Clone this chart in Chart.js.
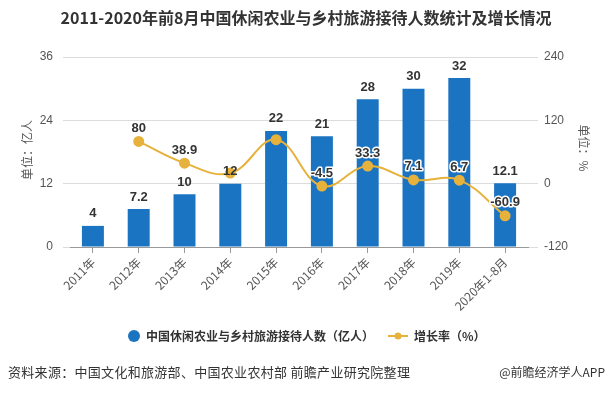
<!DOCTYPE html>
<html>
<head>
<meta charset="utf-8">
<script src="https://cdn.jsdelivr.net/npm/chart.js@4.4.1/dist/chart.umd.min.js"></script>
<style>
  html, body { margin: 0; padding: 0; background: #fff; }
  #wrap { width: 610px; height: 393px; }
</style>
</head>
<body>
<div id="wrap"><canvas id="chart" width="610" height="393"></canvas></div>
<script>
// chart data
const categories = ['2011年', '2012年', '2013年', '2014年', '2015年', '2016年', '2017年', '2018年', '2019年', '2020年1-8月'];
const visitors = [4, 7.2, 10, 12, 22, 21, 28, 30, 32, 12.1];
const growth = [null, 80, 38.9, 20, 83.3, -4.5, 33.3, 7.1, 6.7, -60.9];
const hiddenGrowthLabels = ['2014年', '2015年'];
const leftTicks = [0, 12, 24, 36];
const rightTicks = [-120, 0, 120, 240];

const BLUE = '#1b74c2';
const GOLD = '#e6b23c';
const CJK = '"Noto Sans CJK SC", "Noto Sans", sans-serif';

// value labels above bars and points
const valueLabels = {
    id: 'valueLabels',
    afterDatasetsDraw(chart) {
        const ctx = chart.ctx;
        ctx.save();
        ctx.textAlign = 'center';
        ctx.textBaseline = 'middle';
        ctx.font = 'bold 13px "Liberation Sans", Arial, sans-serif';

        // line labels (white halo)
        const lineMeta = chart.getDatasetMeta(1);
        lineMeta.data.forEach((pt, i) => {
            if (growth[i] === null || hiddenGrowthLabels.includes(categories[i])) return;
            const y = pt.y - 13;
            ctx.lineWidth = 3;
            ctx.strokeStyle = '#fff';
            ctx.lineJoin = 'round';
            ctx.strokeText(String(growth[i]), pt.x, y);
            ctx.fillStyle = '#333';
            ctx.fillText(String(growth[i]), pt.x, y);
        });

        // bar labels
        const barMeta = chart.getDatasetMeta(0);
        barMeta.data.forEach((bar, i) => {
            ctx.fillStyle = '#333';
            ctx.fillText(String(visitors[i]), bar.x, bar.y - 12);
        });
        ctx.restore();
    }
};

// title, axis titles, legend and footer
const decorations = {
    id: 'decorations',
    afterDraw(chart) {
        const ctx = chart.ctx;
        ctx.save();
        ctx.fillStyle = '#333';
        ctx.textBaseline = 'middle';

        ctx.textAlign = 'center';
        ctx.font = 'bold 16px ' + CJK;
        ctx.fillText('2011-2020年前8月中国休闲农业与乡村旅游接待人数统计及增长情况', 306, 18);

        // axis titles
        ctx.font = '12px ' + CJK;
        ctx.fillStyle = '#555';
        ctx.save();
        ctx.translate(27, 150);
        ctx.rotate(-Math.PI / 2);
        ctx.fillText('单位：亿人', 0, 0);
        ctx.restore();
        ctx.save();
        ctx.translate(584, 148);
        ctx.rotate(Math.PI / 2);
        ctx.fillText('单位：%', 0, 0);
        ctx.restore();

        // legend
        const ly = 336;
        ctx.fillStyle = BLUE;
        ctx.beginPath();
        ctx.arc(134, ly, 6, 0, Math.PI * 2);
        ctx.fill();
        ctx.font = 'bold 12px ' + CJK;
        ctx.fillStyle = '#333';
        ctx.textAlign = 'left';
        ctx.fillText('中国休闲农业与乡村旅游接待人数（亿人）', 146, ly);

        ctx.strokeStyle = GOLD;
        ctx.lineWidth = 2;
        ctx.beginPath();
        ctx.moveTo(388, ly);
        ctx.lineTo(408, ly);
        ctx.stroke();
        ctx.fillStyle = GOLD;
        ctx.beginPath();
        ctx.arc(398, ly, 3.5, 0, Math.PI * 2);
        ctx.fill();
        ctx.fillStyle = '#333';
        ctx.fillText('增长率（%）', 414, ly);

        // footer
        ctx.font = '13px ' + CJK;
        ctx.fillStyle = '#333';
        ctx.letterSpacing = '0.3px';
        ctx.fillText('资料来源：中国文化和旅游部、中国农业农村部 前瞻产业研究院整理', 8, 372);
        ctx.letterSpacing = '0px';
        ctx.textAlign = 'right';
        ctx.font = '12px ' + CJK;
        ctx.fillText('@前瞻经济学人APP', 605, 372);
        ctx.restore();
    }
};

const ctx = document.getElementById('chart').getContext('2d');
new Chart(ctx, {
    data: {
        labels: categories,
        datasets: [{
            type: 'bar',
            label: '中国休闲农业与乡村旅游接待人数（亿人）',
            data: visitors,
            backgroundColor: BLUE,
            yAxisID: 'y',
            categoryPercentage: 1,
            barPercentage: 0.48,
            order: 1
        }, {
            type: 'line',
            label: '增长率（%）',
            data: growth,
            borderColor: GOLD,
            backgroundColor: GOLD,
            borderWidth: 2,
            pointRadius: 4.5,
            pointBackgroundColor: GOLD,
            pointBorderColor: GOLD,
            tension: 0.4,
            yAxisID: 'y1',
            order: 0
        }]
    },
    options: {
        responsive: false,
        animation: false,
        layout: { padding: { left: 0, right: 0, top: 57, bottom: 76 } },
        plugins: {
            legend: { display: false },
            tooltip: { enabled: false }
        },
        scales: {
            x: {
                grid: { offset: false, drawOnChartArea: false, tickLength: 6, color: '#999' },
                border: { color: '#999' },
                ticks: {
                    maxRotation: 45, minRotation: 45, autoSkip: false,
                    color: '#555', padding: 2,
                    font: { size: 12, family: CJK }
                },
                afterFit(scale) { scale.height = 70; }
            },
            y: {
                position: 'left',
                min: 0, max: 36,
                afterBuildTicks(scale) { scale.ticks = leftTicks.map(v => ({ value: v })); },
                grid: { color: '#dcdcdc', tickLength: 7 },
                border: { display: false },
                ticks: { color: '#555', padding: 10, font: { size: 12, family: '"Liberation Sans", Arial, sans-serif' } },
                afterFit(scale) { scale.width = 70; }
            },
            y1: {
                position: 'right',
                min: -120, max: 240,
                afterBuildTicks(scale) { scale.ticks = rightTicks.map(v => ({ value: v })); },
                grid: { drawOnChartArea: false, color: '#dcdcdc', tickLength: 10 },
                border: { display: false },
                ticks: { color: '#555', padding: 6, font: { size: 12, family: '"Liberation Sans", Arial, sans-serif' } },
                afterFit(scale) { scale.width = 82; }
            }
        }
    },
    plugins: [valueLabels, decorations]
});
</script>
</body>
</html>
